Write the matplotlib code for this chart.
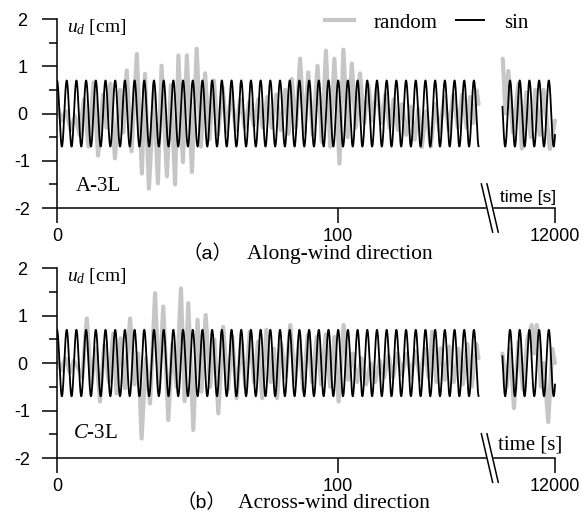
import numpy as np
import matplotlib
matplotlib.use('Agg')
import matplotlib.pyplot as plt
from matplotlib.lines import Line2D

plt.rcParams['font.family'] = ['Liberation Sans', 'DejaVu Sans']
plt.rcParams['axes.unicode_minus'] = False
plt.rcParams['mathtext.fontset'] = 'custom'
plt.rcParams['mathtext.rm'] = 'Liberation Serif'
plt.rcParams['mathtext.it'] = 'Liberation Serif:italic'
SERIF = ['Liberation Serif', 'DejaVu Serif']

# sine excitation
SIN_AMP = 0.7        # cm
SIN_PERIOD = 3.45    # s
SEG1_END = 150.0
SEG2_START = 11981.3
SEG2_PEAK = 11984.0  # first crest of the sine in the late window
T_END = 12000.0
AXIS_RIGHT = 177.2   # compressed axis: 12000 s sits here

# random excitation, turning points (time [s], u_d [cm])
a1_t = [0, 1.6, 3.2, 4.8, 6.4, 8.0, 9.6, 11.2, 13.0, 14.6, 16.4, 17.6, 19.0, 20.6,
        22.4, 23.6, 24.8, 26.5, 28.4, 30.2, 31.3, 32.7, 34.5, 35.9, 37.2, 39.1,
        40.5, 42.0, 43.2, 44.8, 46.2, 48.0, 49.7, 51.2, 52.7, 54.2, 55.8, 57.3,
        58.9, 60.4, 62.0, 63.6, 65.2, 66.8, 68.4, 70.0, 71.6, 73.2, 74.8, 76.4,
        78.0, 79.6, 81.2, 82.4, 83.5, 85.0, 86.5, 88.0, 89.4, 91.0, 92.7, 94.2,
        95.7, 97.2, 98.7, 100.5, 101.9, 103.4, 104.9, 106.3, 107.8, 109.3, 110.8,
        112.3, 113.8, 115.3, 116.8, 118.3, 119.8, 121.3, 122.8, 124.3, 125.8,
        127.3, 128.6, 129.8, 131.4, 133.0, 134.6, 136.2, 137.8, 139.4, 141.0,
        142.6, 144.2, 145.8, 147.0, 148.2, 149.3, 150.0]
a1_u = [0.2, -0.15, 0.05, -0.35, -0.05, -0.45, 0.3, -0.7, 0.66, -0.89, 0.4, -0.3,
        0.63, -0.95, 0.5, -0.4, 0.91, -0.8, 1.26, -1.27, 0.84, -1.59, 0.5, -1.48,
        1.01, -1.33, 0.6, -1.5, 1.23, -1.03, 1.23, -1.24, 1.37, -0.7, 0.85, -0.55,
        0.7, -0.45, 0.55, -0.4, 0.45, -0.35, 0.3, -0.3, 0.25, -0.25, 0.3, -0.3,
        0.35, -0.3, 0.4, -0.35, 0.5, -0.43, 0.73, -0.3, 1.16, -0.4, 0.87, -0.45,
        1.01, -0.6, 1.33, -0.7, 1.16, -1.06, 1.35, -0.5, 1.06, -0.3, 0.85, -0.2,
        0.6, -0.15, 0.56, -0.2, 0.4, -0.3, 0.3, -0.35, 0.2, -0.45, 0.15, -0.55,
        0.1, -0.71, 0.05, -0.7, 0.2, -0.4, 0.35, -0.35, 0.4, -0.3, 0.4, -0.3,
        0.35, -0.2, 0.49, 0.2]
a2_t = [11981.4, 11982.4, 11983.4, 11985.0, 11987.0, 11988.2, 11989.8, 11991.4,
        11993.0, 11994.5, 11995.9, 11998.2, 12000.0]
a2_u = [1.16, 0.0, 0.9, -0.4, 0.63, -0.74, 0.45, -0.5, 0.5, -0.45, 0.5, -0.75, -0.15]

b1_t = [0, 1.5, 3.0, 4.5, 6.0, 7.5, 9.0, 10.6, 12.2, 13.8, 15.3, 16.8, 18.4, 20.0,
        21.2, 22.6, 24.2, 26.0, 27.6, 28.9, 30.1, 31.6, 33.1, 34.9, 36.3, 37.8,
        39.6, 41.0, 42.5, 44.1, 45.4, 46.7, 48.5, 50.0, 51.4, 52.9, 54.5, 56.0,
        57.4, 59.1, 60.9, 62.4, 63.9, 65.5, 67.0, 68.6, 70.1, 71.5, 73.0, 74.5,
        76.0, 77.2, 78.3, 79.8, 81.4, 83.0, 84.6, 86.2, 87.6, 89.2, 90.8, 92.4,
        94.0, 95.6, 97.2, 98.7, 100.2, 102.0, 103.6, 105.2, 106.8, 108.4, 110.0,
        111.6, 113.2, 114.8, 116.4, 118.0, 119.6, 121.2, 122.8, 124.4, 126.0,
        127.6, 129.2, 130.8, 132.2, 133.5, 135.0, 136.5, 138.0, 139.6, 141.2,
        142.8, 144.4, 146.0, 147.6, 149.2, 150.0]
b1_u = [0.1, -0.15, 0.1, -0.2, 0.05, -0.1, -0.3, 0.94, -0.46, 0.3, -0.81, 0.38,
        -0.4, 0.62, -0.64, 0.52, -0.53, 0.94, -0.45, 0.2, -1.59, 0.1, -0.85, 1.47,
        -0.6, 1.19, -1.2, 0.4, -0.5, 1.57, -0.8, 1.26, -1.41, 0.91, -0.6, 1.01,
        -0.5, 0.5, -1.06, 0.76, -0.55, 0.55, -0.74, 0.5, -0.5, 0.66, -0.4, 0.45,
        -0.74, 0.7, -0.4, 0.3, -0.74, 0.4, -0.3, 0.8, -0.4, 0.5, -0.57, 0.59, -0.4,
        0.55, -0.45, 0.6, -0.5, 0.55, -0.81, 0.8, -0.35, 0.2, -0.4, 0.1, -0.45,
        0.0, -0.4, 0.05, -0.3, 0.15, -0.3, 0.2, -0.25, 0.2, -0.3, 0.25, -0.35,
        0.3, -0.3, 0.66, -0.4, 0.31, -0.35, 0.35, -0.4, 0.3, -0.45, 0.4, -0.5,
        0.4, 0.1]
b2_t = [11981.3, 11982.8, 11984.0, 11985.4, 11987.0, 11988.6, 11990.2, 11991.7,
        11992.6, 11993.5, 11995.0, 11996.0, 11997.6, 11999.0, 12000.0]
b2_u = [0.2, -0.5, 0.3, -0.95, 0.45, -0.55, 0.5, 0.8, 0.2, 0.8, -0.5, 0.0,
        -1.24, 0.3, 0.0]

GREY = '#c6c6c6'


def late(t):  # put the late window next to the first one
    return np.asarray(t) - T_END + AXIS_RIGHT


def panel(ax, r1_t, r1_u, r2_t, r2_u):
    t1 = np.linspace(0, SEG1_END, 3000)
    t2 = np.linspace(SEG2_START, T_END, 500)
    s1 = SIN_AMP * np.cos(2 * np.pi * t1 / SIN_PERIOD)
    s2 = SIN_AMP * np.cos(2 * np.pi * (t2 - SEG2_PEAK) / SIN_PERIOD)

    kw_r = dict(color=GREY, lw=3.0, solid_joinstyle='round', solid_capstyle='round', zorder=2)
    kw_s = dict(color='black', lw=1.3, zorder=3)
    ax.plot(r1_t, r1_u, **kw_r)
    ax.plot(late(r2_t), r2_u, clip_on=False, **kw_r)
    ax.plot(t1, s1, **kw_s)
    ax.plot(late(t2), s2, clip_on=False, **kw_s)

    ax.set_xlim(0, AXIS_RIGHT)
    ax.set_ylim(-2, 2)
    for s in ['top', 'right']:
        ax.spines[s].set_visible(False)
    for s in ['left', 'bottom']:
        ax.spines[s].set_linewidth(1.1)
    ax.set_xticks([0, 100, AXIS_RIGHT])
    ax.set_xticklabels(['0', '100', '12000'])
    ax.set_yticks([-2, -1, 0, 1, 2])
    ax.set_yticks([-1.5, -0.5, 0.5, 1.5], minor=True)
    ax.tick_params(which='major', length=10.8, width=1.1, labelsize=13)
    ax.tick_params(axis='y', which='minor', length=6, width=1.1)
    ax.tick_params(axis='y', pad=14)
    ax.tick_params(axis='x', pad=3.5)
    for lab in ax.get_yticklabels():
        lab.set_ha('center')

    # axis break
    bx = [153.0, 155.0]
    for x in bx:
        ax.plot([x - 2.0, x + 2.0], [-1.49, -2.51], color='black', lw=1.1,
                clip_on=False, zorder=5)
    ax.fill([bx[0] - 0.3, bx[1] - 0.3, bx[1] + 0.3, bx[0] + 0.3],
            [-1.92, -1.92, -2.08, -2.08], color='white', clip_on=False, zorder=4)

    ax.text(3.5, 1.83, r'$u_d$ [cm]', family=SERIF, fontsize=14, va='center')


fig = plt.figure(figsize=(5.86, 5.14), dpi=100)
ax1 = fig.add_axes([0.0973, 0.5953, 0.8498, 0.3677])
ax2 = fig.add_axes([0.0973, 0.1089, 0.8498, 0.3696])

panel(ax1, a1_t, a1_u, a2_t, a2_u)
panel(ax2, b1_t, b1_u, b2_t, b2_u)

ax1.text(6.8, -1.54, 'A-3L', family=SERIF, fontsize=15, va='center')
ax2.text(5.8, -1.49, r'$C$-3L', family=SERIF, fontsize=15, va='center')
ax1.text(AXIS_RIGHT + 0.3, -1.78, 'time [s]', fontsize=12.5, ha='right', va='center')
ax2.text(AXIS_RIGHT + 2.5, -1.73, 'time [s]', family=SERIF, fontsize=15,
         ha='right', va='center', clip_on=False)

handles = [Line2D([], [], color=GREY, lw=3.0), Line2D([], [], color='black', lw=1.4)]
ax1.legend(handles, ['random', 'sin'], loc='center right', bbox_to_anchor=(0.946, 0.98),
           ncol=2, frameon=False, prop={'family': SERIF, 'size': 15},
           handlelength=1.35, handletextpad=0.96, columnspacing=0.87,
           borderaxespad=0, borderpad=0)

cap_fam = ['Liberation Sans', 'Noto Sans CJK SC']
fig.text(207.5 / 586, 1 - 259 / 514, '（a）', family=cap_fam, fontsize=14,
         ha='center', va='baseline')
fig.text(247 / 586, 1 - 259 / 514, 'Along-wind direction', family=SERIF, fontsize=15.5,
         ha='left', va='baseline')
fig.text(201 / 586, 1 - 508 / 514, '（b）', family=cap_fam, fontsize=14,
         ha='center', va='baseline')
fig.text(238 / 586, 1 - 508 / 514, 'Across-wind direction', family=SERIF, fontsize=15.5,
         ha='left', va='baseline')

fig.savefig('out.png', dpi=100)
